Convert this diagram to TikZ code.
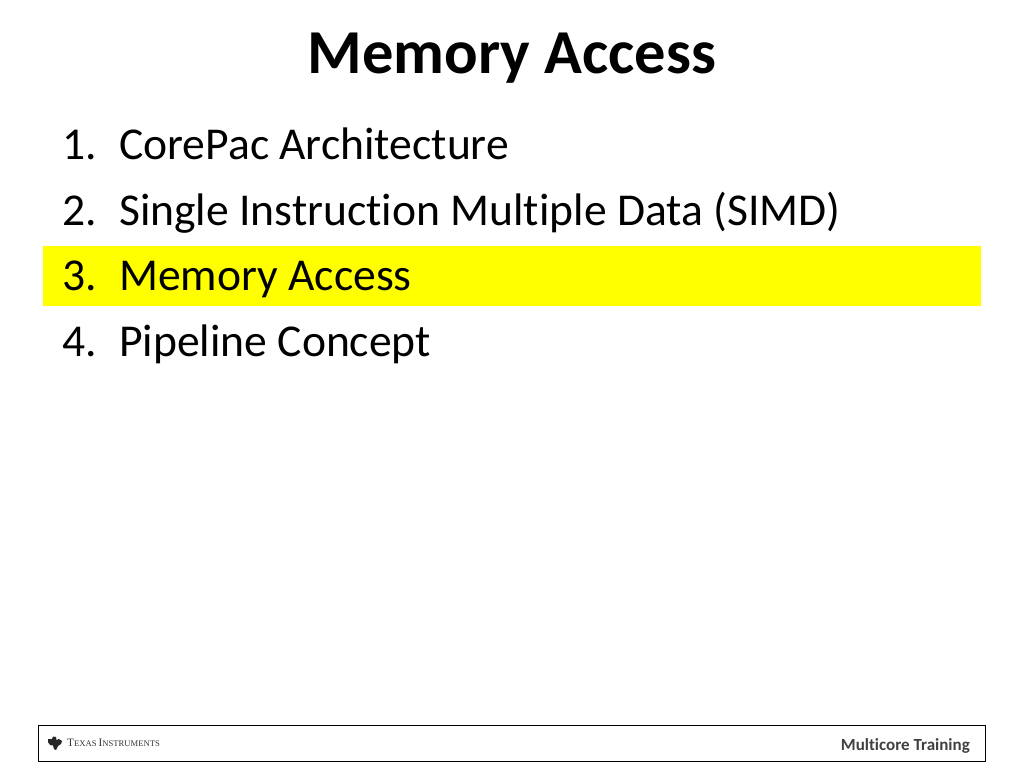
\documentclass[tikz,border=0pt]{standalone}
\usepackage{fontspec}
\setmainfont[Ligatures=NoCommon]{Carlito}
\newfontfamily\tifont{Liberation Serif}
\usepackage{tikz}
\usetikzlibrary{positioning}
\definecolor{hilite}{RGB}{255,255,0}
\definecolor{footgray}{RGB}{64,64,64}
\newcommand{\tiname}{\tifont\fontsize{11.3}{11.3}\selectfont T\fontsize{8.6}{8.6}\selectfont EXAS \fontsize{11.3}{11.3}\selectfont I\fontsize{8.6}{8.6}\selectfont NSTRUMENTS}
\begin{document}
\begin{tikzpicture}[x=1pt,y=-1pt]
    \tikzstyle{slidetitle} = [font=\fontsize{62.5}{62.5}\selectfont\bfseries,inner sep=0pt,anchor=base]
    \tikzstyle{itemnum} = [font=\fontsize{45.6}{45.6}\selectfont,inner sep=0pt,anchor=base west]
    \tikzstyle{itemtext} = [font=\fontsize{45.6}{45.6}\selectfont,inner sep=0pt,anchor=base west]
    \tikzstyle{footbox} = [draw=black,line width=0.8pt,minimum width=947pt,minimum height=36pt,inner sep=0pt]
    %
    \useasboundingbox (0,0) rectangle (1024,768);
    % Highlight bar behind item 3.
    \node[fill=hilite,minimum width=938pt,minimum height=60pt,inner sep=0pt] (bar) at (512,276) {};
    \node[slidetitle] (title) at (512,73) {Memory Access};
    %
    \node[itemnum] (n1) at (62,159) {1.};
    \node[itemtext] (t1) at (119,159) {CorePac Architecture};
    \node[itemnum] (n2) at (62,225) {2.};
    \node[itemtext] (t2) at (119,225) {Single Instruction Multiple Data (SIMD)};
    \node[itemnum] (n3) at (62,290) {3.};
    \node[itemtext] (t3) at (119,290) {Memory Access};
    \node[itemnum] (n4) at (62,356) {4.};
    \node[itemtext] (t4) at (119,356) {Pipeline Concept};
    %
    \node[footbox] (foot) at (511.5,743) {};
    % Logo, drawn directly.
    \fill[black!85] (48,739) -- (52,739) -- (53,736.5) -- (56,737) -- (56.5,740) -- (59,739) -- (62,741) -- (61,744) -- (58,746) -- (56,750) -- (54,749) -- (53,745.5) -- (50,745) -- (48,742) -- cycle;
    \node[inner sep=0pt,anchor=west,text=black!80] (ti) at (67,742.5) {\tiname};
    \node[font=\fontsize{17}{17}\selectfont\bfseries,text=footgray,inner sep=0pt,anchor=east] (mt) at (970,746) {Multicore Training};
\end{tikzpicture}
\end{document}
